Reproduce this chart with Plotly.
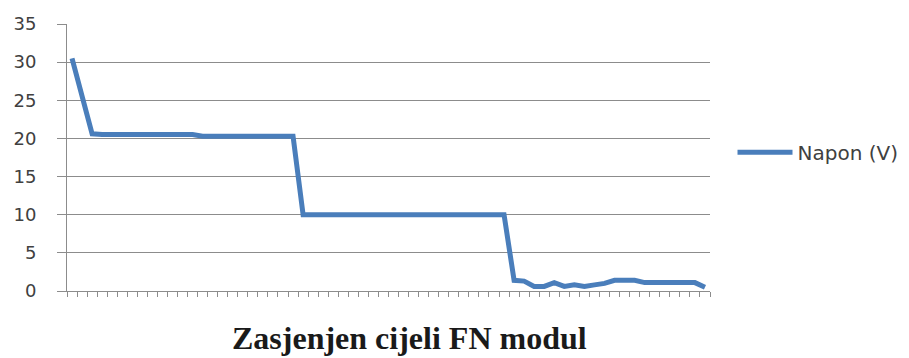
import plotly.graph_objects as go

# Measured module voltage per sample point (V)
napon = [
    30.5, 25.6, 20.6, 20.5, 20.5, 20.5, 20.5, 20.5, 20.5, 20.5,
    20.5, 20.5, 20.5, 20.3, 20.3, 20.3, 20.3, 20.3, 20.3, 20.3,
    20.3, 20.3, 20.3, 10.0, 10.0, 10.0, 10.0, 10.0, 10.0, 10.0,
    10.0, 10.0, 10.0, 10.0, 10.0, 10.0, 10.0, 10.0, 10.0, 10.0,
    10.0, 10.0, 10.0, 10.0, 1.4, 1.3, 0.6, 0.6, 1.1, 0.6,
    0.8, 0.6, 0.8, 1.0, 1.4, 1.4, 1.4, 1.1, 1.1, 1.1,
    1.1, 1.1, 1.1, 0.5,
]
samples = list(range(len(napon)))
y_ticks = [0, 5, 10, 15, 20, 25, 30, 35]

series_name = "Napon (V)"
chart_title = "Zasjenjen cijeli FN modul"

grid_col = "#8c8c8c"
line_col = "#4a7ebb"
text_col = "#404040"

fig = go.Figure()
fig.add_trace(go.Scatter(
    x=samples, y=napon, mode="lines", name=series_name,
    line=dict(color=line_col, width=5, shape="linear"),
))

fig.update_layout(
    width=909, height=358,
    margin=dict(l=67, r=199, t=24, b=67, autoexpand=False),
    paper_bgcolor="white", plot_bgcolor="white",
    showlegend=True,
    legend=dict(
        x=1.035, y=0.52, xanchor="left", yanchor="middle",
        font=dict(family="DejaVu Sans", size=20, color=text_col),
        itemwidth=55, bgcolor="rgba(0,0,0,0)",
    ),
    annotations=[dict(
        text="<b>" + chart_title + "</b>",
        xref="paper", yref="paper", x=0.533, y=-0.1,
        xanchor="center", yanchor="top", showarrow=False,
        font=dict(family="Liberation Serif", size=32, color="#1a1a1a"),
    )],
)

fig.update_xaxes(
    range=[-0.5, len(napon) - 0.5],
    tickmode="array", tickvals=[i - 0.5 for i in range(len(napon) + 1)],
    showticklabels=False, ticks="outside", ticklen=5, tickcolor=grid_col,
    showline=True, linecolor=grid_col, linewidth=1,
    showgrid=False, zeroline=False,
)
fig.update_yaxes(
    range=[0, 35], tickmode="array", tickvals=y_ticks,
    ticks="outside", ticklen=9, tickcolor=grid_col,
    showline=True, linecolor=grid_col, linewidth=1,
    showgrid=True, gridcolor=grid_col, gridwidth=1,
    zeroline=False,
    tickfont=dict(family="DejaVu Sans", size=18, color=text_col),
    ticklabelstandoff=17,
)

fig.write_html("out.html")
